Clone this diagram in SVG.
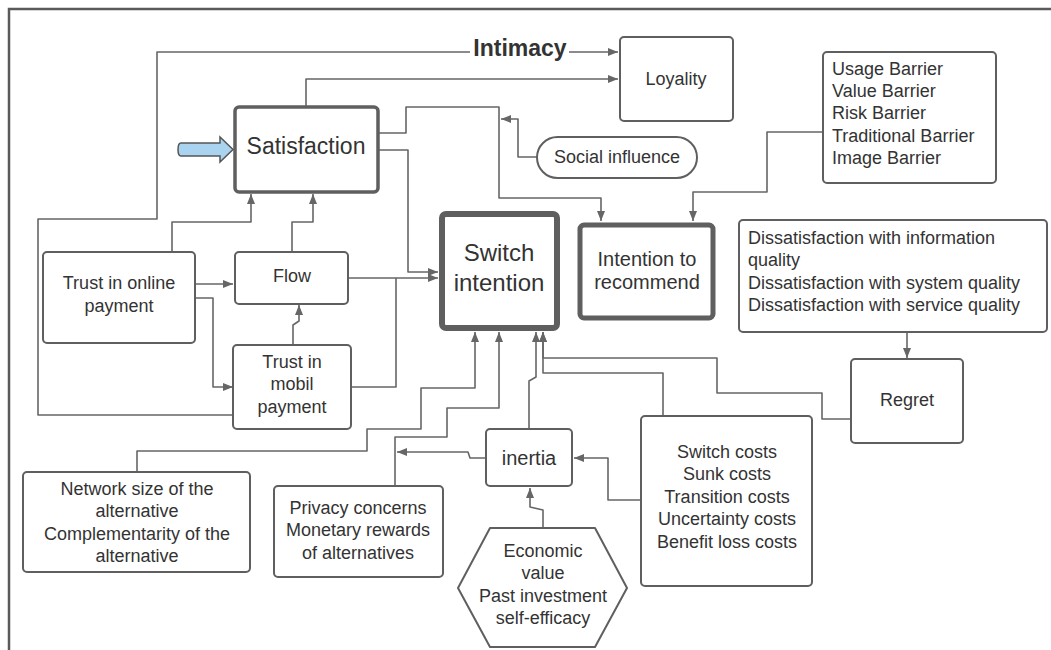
<svg xmlns="http://www.w3.org/2000/svg" width="1051" height="650" viewBox="0 0 1051 650">
<style>
.box{fill:#fff;stroke:#5f5f5f;stroke-width:2}
.t{font-family:"Liberation Sans",Arial,sans-serif;font-size:18px;fill:#333;text-anchor:middle}
.tl{font-family:"Liberation Sans",Arial,sans-serif;font-size:18px;fill:#333}
.c{fill:none;stroke:#666;stroke-width:1.6;stroke-linejoin:round}
</style>
<defs>
<marker id="ah" markerUnits="userSpaceOnUse" markerWidth="11" markerHeight="9" refX="10" refY="4" orient="auto">
<path d="M0,0 L10,4 L0,8 Z" fill="#666"/>
</marker>
</defs>
<rect width="1051" height="650" fill="#fff"/>
<path d="M1051,9 H9 V650" fill="none" stroke="#5a5a5a" stroke-width="2.5"/>

<g id="connectors">
<path class="c" marker-end="url(#ah)" d="M233,415 H38 V219 H157 V52 H470 M569,52 H618"/>
<path class="c" marker-end="url(#ah)" d="M306,107 V79 H618"/>
<path class="c" marker-end="url(#ah)" d="M378,133 H406 V107 H499 V198 H601 V221"/>
<path class="c" marker-end="url(#ah)" d="M537,157 H518 V119 H501"/>
<path class="c" marker-end="url(#ah)" d="M378,150 H408 V272 H438"/>
<path class="c" marker-end="url(#ah)" d="M348,278 H438"/>
<path class="c" d="M351,387 H396 V278"/>
<path class="c" marker-end="url(#ah)" d="M195,284 H233"/>
<path class="c" marker-end="url(#ah)" d="M195,298 H213 V387 H233"/>
<path class="c" marker-end="url(#ah)" d="M172,252 V222 H251 V194"/>
<path class="c" marker-end="url(#ah)" d="M292,252 V222 H313 V194"/>
<path class="c" marker-end="url(#ah)" d="M293,345 V325 L299,321 V305"/>
<path class="c" marker-end="url(#ah)" d="M823,132 H767 V192 H693 V221"/>
<path class="c" marker-end="url(#ah)" d="M907,332 V358"/>
<path class="c" marker-end="url(#ah)" d="M851,419 H822 V393 H717 V358 H543 V332"/>
<path class="c" marker-end="url(#ah)" d="M663,416 V373 H543 V332"/>
<path class="c" marker-end="url(#ah)" d="M641,500 H608 V458 H574"/>
<path class="c" marker-end="url(#ah)" d="M486,458 H470 L468,452 H397"/>
<path class="c" marker-end="url(#ah)" d="M395,485 V437 H447 V408 H499 V332"/>
<path class="c" marker-end="url(#ah)" d="M137,471 V451 H367 V429 H421 V388 H475 V332"/>
<path class="c" marker-end="url(#ah)" d="M529,429 V381 L536,377 V332"/>
<path class="c" marker-end="url(#ah)" d="M543,528 V510 L530,507 V488"/>
</g>

<g id="intimacy-label">
<text x="520" y="56" class="t" style="font-size:23px;font-weight:bold">Intimacy</text>
</g>

<g id="loyality">
<rect class="box" x="620" y="37" width="113" height="84" rx="4"/>
<text class="t" x="676" y="85">Loyality</text>
</g>

<g id="satisfaction">
<rect class="box" x="235" y="107" width="143" height="85" rx="4" style="stroke-width:3.5"/>
<text class="t" x="306" y="154" style="font-size:23px">Satisfaction</text>
</g>

<g id="entry-arrow">
<path d="M181,143 H220 V137 L233,149.5 L220,162 V156 H181 Q178,156 178,149.5 Q178,143 181,143 Z" fill="#a9d3ef" stroke="#555" stroke-width="1.5"/>
</g>

<g id="social-influence">
<rect class="box" x="537" y="137" width="160" height="41" rx="20.5"/>
<text class="t" x="617" y="163">Social influence</text>
</g>

<g id="barriers">
<rect class="box" x="823" y="52" width="173" height="131" rx="4"/>
<text class="tl" x="832" y="75">Usage Barrier</text>
<text class="tl" x="832" y="97">Value Barrier</text>
<text class="tl" x="832" y="119">Risk Barrier</text>
<text class="tl" x="832" y="142">Traditional Barrier</text>
<text class="tl" x="832" y="164">Image Barrier</text>
</g>

<g id="switch-intention">
<rect x="442" y="214" width="115" height="114" rx="4" fill="#fff" stroke="#5f5f5f" stroke-width="6"/>
<text class="t" x="499" y="261" style="font-size:24px">Switch</text>
<text class="t" x="499" y="291" style="font-size:24px">intention</text>
</g>

<g id="intention-to-recommend">
<rect x="580" y="225" width="133" height="93" rx="4" fill="#fff" stroke="#5f5f5f" stroke-width="5"/>
<text class="t" x="647" y="266" style="font-size:20px">Intention to</text>
<text class="t" x="647" y="289" style="font-size:20px">recommend</text>
</g>

<g id="dissatisfaction">
<rect class="box" x="739" y="220" width="308" height="112" rx="4"/>
<text class="tl" x="748" y="244">Dissatisfaction with information</text>
<text class="tl" x="748" y="266">quality</text>
<text class="tl" x="748" y="289">Dissatisfaction with system quality</text>
<text class="tl" x="748" y="311">Dissatisfaction with service quality</text>
</g>

<g id="regret">
<rect class="box" x="851" y="359" width="112" height="84" rx="4"/>
<text class="t" x="907" y="406">Regret</text>
</g>

<g id="trust-online">
<rect class="box" x="43" y="252" width="152" height="91" rx="4"/>
<text class="t" x="119" y="289">Trust in online</text>
<text class="t" x="119" y="312">payment</text>
</g>

<g id="flow">
<rect class="box" x="235" y="252" width="113" height="52" rx="4"/>
<text class="t" x="292" y="282">Flow</text>
</g>

<g id="trust-mobil">
<rect class="box" x="233" y="345" width="118" height="84" rx="4"/>
<text class="t" x="292" y="368">Trust in</text>
<text class="t" x="292" y="390">mobil</text>
<text class="t" x="292" y="413">payment</text>
</g>

<g id="network">
<rect class="box" x="23" y="472" width="227" height="100" rx="4"/>
<text class="t" x="137" y="495">Network size of the</text>
<text class="t" x="137" y="517">alternative</text>
<text class="t" x="137" y="540">Complementarity of the</text>
<text class="t" x="137" y="562">alternative</text>
</g>

<g id="privacy">
<rect class="box" x="274" y="486" width="169" height="91" rx="4"/>
<text class="t" x="358" y="514">Privacy concerns</text>
<text class="t" x="358" y="536">Monetary rewards</text>
<text class="t" x="358" y="559">of alternatives</text>
</g>

<g id="inertia">
<rect class="box" x="486" y="429" width="86" height="57" rx="4"/>
<text class="t" x="529" y="465" style="font-size:20px">inertia</text>
</g>

<g id="economic">
<polygon class="box" points="490,528 595,528 627,588 595,647 490,647 458,588" stroke-linejoin="round"/>
<text class="t" x="543" y="557">Economic</text>
<text class="t" x="543" y="579">value</text>
<text class="t" x="543" y="602">Past investment</text>
<text class="t" x="543" y="624">self-efficacy</text>
</g>

<g id="costs">
<rect class="box" x="641" y="416" width="171" height="170" rx="4"/>
<text class="t" x="727" y="458">Switch costs</text>
<text class="t" x="727" y="480">Sunk costs</text>
<text class="t" x="727" y="503">Transition costs</text>
<text class="t" x="727" y="525">Uncertainty costs</text>
<text class="t" x="727" y="548">Benefit loss costs</text>
</g>
</svg>
